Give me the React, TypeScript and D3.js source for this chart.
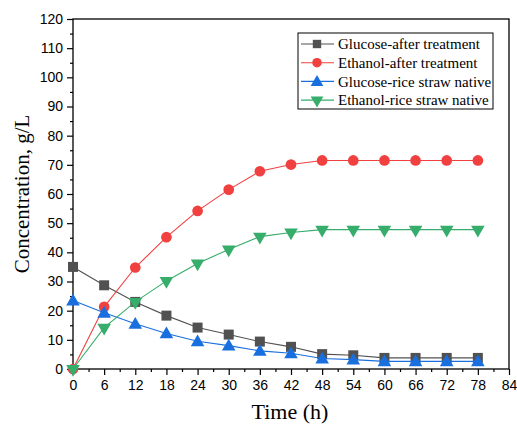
import React, { useEffect, useRef } from "react";
import * as d3 from "d3";

const hours = [0, 6, 12, 18, 24, 30, 36, 42, 48, 54, 60, 66, 72, 78];
const glucoseAfter = [35, 28.7, 23, 18.3, 14.2, 11.8, 9.4, 7.6, 5.1, 4.7, 3.8, 3.8, 3.8, 3.8];
const ethanolAfter = [0, 21.3, 34.8, 45.2, 54.2, 61.5, 67.8, 70.1, 71.5, 71.5, 71.5, 71.5, 71.5, 71.5];
const glucoseNative = [23.5, 19.3, 15.5, 12.2, 9.5, 8.0, 6.2, 5.4, 3.6, 3.2, 2.6, 2.6, 2.6, 2.6];
const ethanolNative = [0, 14.2, 23, 30.2, 36.2, 41, 45.4, 46.8, 47.8, 47.8, 47.8, 47.8, 47.8, 47.8];

const seriesNames = [
  "Glucose-after treatment",
  "Ethanol-after treatment",
  "Glucose-rice straw native",
  "Ethanol-rice straw native",
];
const seriesColors = ["#515151", "#F14040", "#1A6FDF", "#37AD6B"];
const seriesSymbols = [d3.symbolSquare, d3.symbolCircle, d3.symbolTriangle, d3.symbolTriangle];
const seriesValues = [glucoseAfter, ethanolAfter, glucoseNative, ethanolNative];

const xTicks = [0, 6, 12, 18, 24, 30, 36, 42, 48, 54, 60, 66, 72, 78, 84];
const yTicks = [0, 10, 20, 30, 40, 50, 60, 70, 80, 90, 100, 110, 120];

const width = 517;
const height = 425;

const App = () => {
  const ref = useRef<SVGSVGElement | null>(null);

  useEffect(() => {
    const svg = d3.select(ref.current);
    svg.selectAll("*").remove();

    const margin = { top: 19, left: 73, right: 8, bottom: 56 };
    const plotW = width - margin.left - margin.right;
    const plotH = height - margin.top - margin.bottom;

    const x = d3.scaleLinear().domain([0, 84]).range([0, plotW]);
    const y = d3.scaleLinear().domain([0, 120]).range([plotH, 0]);

    const g = svg.append("g").attr("transform", `translate(${margin.left},${margin.top})`);

    // frame
    g.append("rect")
      .attr("width", plotW)
      .attr("height", plotH)
      .attr("fill", "none")
      .attr("stroke", "#000")
      .attr("stroke-width", 1.3);

    // minor ticks
    const xMinor = d3.range(3, 84, 6);
    const yMinor = d3.range(5, 120, 10);
    g.append("g")
      .attr("transform", `translate(0,${plotH})`)
      .call(d3.axisBottom(x).tickValues(xMinor).tickSize(3).tickFormat(() => ""))
      .call(a => a.select(".domain").remove());
    g.append("g")
      .call(d3.axisLeft(y).tickValues(yMinor).tickSize(3).tickFormat(() => ""))
      .call(a => a.select(".domain").remove());

    const xAxis = g.append("g")
      .attr("transform", `translate(0,${plotH})`)
      .call(d3.axisBottom(x).tickValues(xTicks).tickSize(6).tickPadding(5).tickFormat(d3.format("d")));
    xAxis.select(".domain").remove();
    xAxis.selectAll("text")
      .attr("font-family", "Liberation Sans, Arial, sans-serif")
      .attr("font-size", 14)
      .attr("fill", "#000");

    const yAxis = g.append("g")
      .call(d3.axisLeft(y).tickValues(yTicks).tickSize(6).tickPadding(4).tickFormat(d3.format("d")));
    yAxis.select(".domain").remove();
    yAxis.selectAll("text")
      .attr("font-family", "Liberation Sans, Arial, sans-serif")
      .attr("font-size", 14)
      .attr("fill", "#000");
    g.selectAll(".tick line").attr("stroke", "#000").attr("stroke-width", 1.2);

    // series
    seriesValues.forEach((vals, i) => {
      const pts = hours.map((h, j) => [h, vals[j]] as [number, number]);
      const line = d3.line<[number, number]>().x(d => x(d[0])).y(d => y(d[1]));
      g.append("path")
        .attr("d", line(pts))
        .attr("fill", "none")
        .attr("stroke", seriesColors[i])
        .attr("stroke-width", 1.1);
      const size = i === 1 ? 90 : i === 0 ? 100 : 80;
      g.append("g")
        .selectAll("path")
        .data(pts)
        .enter()
        .append("path")
        .attr("d", d3.symbol().type(seriesSymbols[i]).size(size)())
        .attr("transform", d => `translate(${x(d[0])},${y(d[1]) + (i === 2 ? 1 : 0)})${i === 3 ? " rotate(180)" : ""}`)
        .attr("fill", seriesColors[i]);
    });

    // legend
    const lg = svg.append("g").attr("transform", "translate(298,33)");
    lg.append("rect")
      .attr("width", 195)
      .attr("height", 76)
      .attr("fill", "#fff")
      .attr("stroke", "#000")
      .attr("stroke-width", 1);
    seriesNames.forEach((name, i) => {
      const cy = 11 + i * 18.7;
      lg.append("line")
        .attr("x1", 3).attr("x2", 36)
        .attr("y1", cy).attr("y2", cy)
        .attr("stroke", seriesColors[i])
        .attr("stroke-width", 1.1);
      lg.append("path")
        .attr("d", d3.symbol().type(seriesSymbols[i]).size(70)())
        .attr("transform", `translate(19,${cy + (i === 2 ? 1 : 0)})${i === 3 ? " rotate(180)" : ""}`)
        .attr("fill", seriesColors[i]);
      lg.append("text")
        .attr("x", 40)
        .attr("y", cy)
        .attr("dy", "0.35em")
        .attr("font-family", "Liberation Serif, Times New Roman, serif")
        .attr("font-size", 15)
        .attr("fill", "#000")
        .text(name);
    });

    // axis titles
    svg.append("text")
      .attr("transform", `translate(29,${margin.top + plotH / 2}) rotate(-90)`)
      .attr("text-anchor", "middle")
      .attr("font-family", "Liberation Serif, Times New Roman, serif")
      .attr("font-size", 21)
      .attr("fill", "#000")
      .text("Concentration, g/L");
    svg.append("text")
      .attr("x", margin.left + plotW / 2 - 1)
      .attr("y", 419)
      .attr("text-anchor", "middle")
      .attr("font-family", "Liberation Serif, Times New Roman, serif")
      .attr("font-size", 22)
      .attr("fill", "#000")
      .text("Time (h)");
  }, []);

  return (
    <svg
      ref={ref}
      width={width}
      height={height}
      style={{ position: "absolute", left: 0, top: 0, background: "#fff" }}
    />
  );
};

export default App;
